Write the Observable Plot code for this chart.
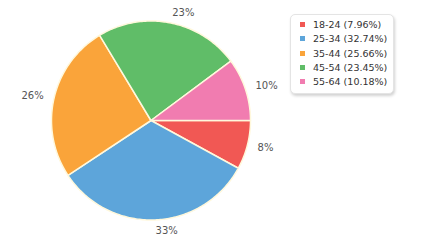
<!DOCTYPE html>
<html>
<head>
<meta charset="utf-8">
<script src="https://cdn.jsdelivr.net/npm/d3@7"></script>
<script src="https://cdn.jsdelivr.net/npm/@observablehq/plot@0.6"></script>
<style>
  html, body { margin: 0; padding: 0; background: #fff; }
  #wrap { position: relative; width: 430px; height: 250px; font-family: "DejaVu Sans", Verdana, sans-serif; }
  #legend {
    position: absolute; left: 290px; top: 14px; width: 104px; height: 80px;
    box-sizing: border-box; border: 1px solid #e4e4e4; border-radius: 5px;
    background: #fff; box-shadow: 1px 2px 3px rgba(0,0,0,0.18);
    padding: 3px 0 0 9px; font-size: 9.5px; color: #333;
  }
  .row { height: 14.3px; line-height: 14.3px; white-space: nowrap; }
  .sw { display: inline-block; width: 5px; height: 5px; margin-right: 8px; vertical-align: 1px; }
</style>
</head>
<body>
<div id="wrap"></div>
<script>
const categories = ["18-24", "25-34", "35-44", "45-54", "55-64"];
const values = [7.96, 32.74, 25.66, 23.45, 10.18];
const colors = ["#F15854", "#5DA5DA", "#FAA43A", "#60BD68", "#F17CB0"];

const W = 430, H = 250, CX = 150.5, CY = 120, R = 99.5;
const total = d3.sum(values);

// slice angles (clockwise from 3 o'clock, screen y down)
let acc = 0;
const slices = categories.map((c, i) => {
  const a0 = acc / total * 2 * Math.PI;
  acc += values[i];
  const a1 = acc / total * 2 * Math.PI;
  return {cat: c, value: values[i], color: colors[i], a0, a1, mid: (a0 + a1) / 2};
});

// polygon outline points for each slice
const pts = [];
for (const s of slices) {
  pts.push({cat: s.cat, x: 0, y: 0});
  const n = Math.max(2, Math.ceil((s.a1 - s.a0) / (Math.PI / 180)));
  for (let k = 0; k <= n; k++) {
    const a = s.a0 + (s.a1 - s.a0) * k / n;
    pts.push({cat: s.cat, x: Math.cos(a), y: Math.sin(a)});
  }
  pts.push({cat: s.cat, x: 0, y: 0});
}

const LR = 110 / R;
const labels = slices.map(s => ({
  cat: s.cat,
  text: Math.round(s.value) + "%",
  x: LR * Math.cos(s.mid),
  y: LR * Math.sin(s.mid),
  right: Math.cos(s.mid) >= 0
}));

const plot = Plot.plot({
  width: W, height: H,
  margin: 0,
  x: {domain: [-CX / R, (W - CX) / R], axis: null},
  y: {domain: [(H - CY) / R, -CY / R], axis: null},
  color: {domain: categories, range: colors},
  style: {fontFamily: "DejaVu Sans, Verdana, sans-serif", background: "transparent"},
  marks: [
    Plot.line(pts, {x: "x", y: "y", z: "cat", fill: "cat", stroke: "#fff8dc", strokeWidth: 1.5, curve: "linear-closed"}),
    Plot.text(labels.filter(d => d.right), {x: "x", y: "y", text: "text", textAnchor: "start", fill: "#555", fontSize: 10}),
    Plot.text(labels.filter(d => !d.right), {x: "x", y: "y", text: "text", textAnchor: "end", fill: "#555", fontSize: 10})
  ]
});
const wrap = document.getElementById("wrap");
wrap.appendChild(plot);

const legend = document.createElement("div");
legend.id = "legend";
slices.forEach(s => {
  const row = document.createElement("div");
  row.className = "row";
  const sw = document.createElement("span");
  sw.className = "sw";
  sw.style.background = s.color;
  row.appendChild(sw);
  row.appendChild(document.createTextNode(`${s.cat} (${s.value.toFixed(2)}%)`));
  legend.appendChild(row);
});
wrap.appendChild(legend);
</script>
</body>
</html>
